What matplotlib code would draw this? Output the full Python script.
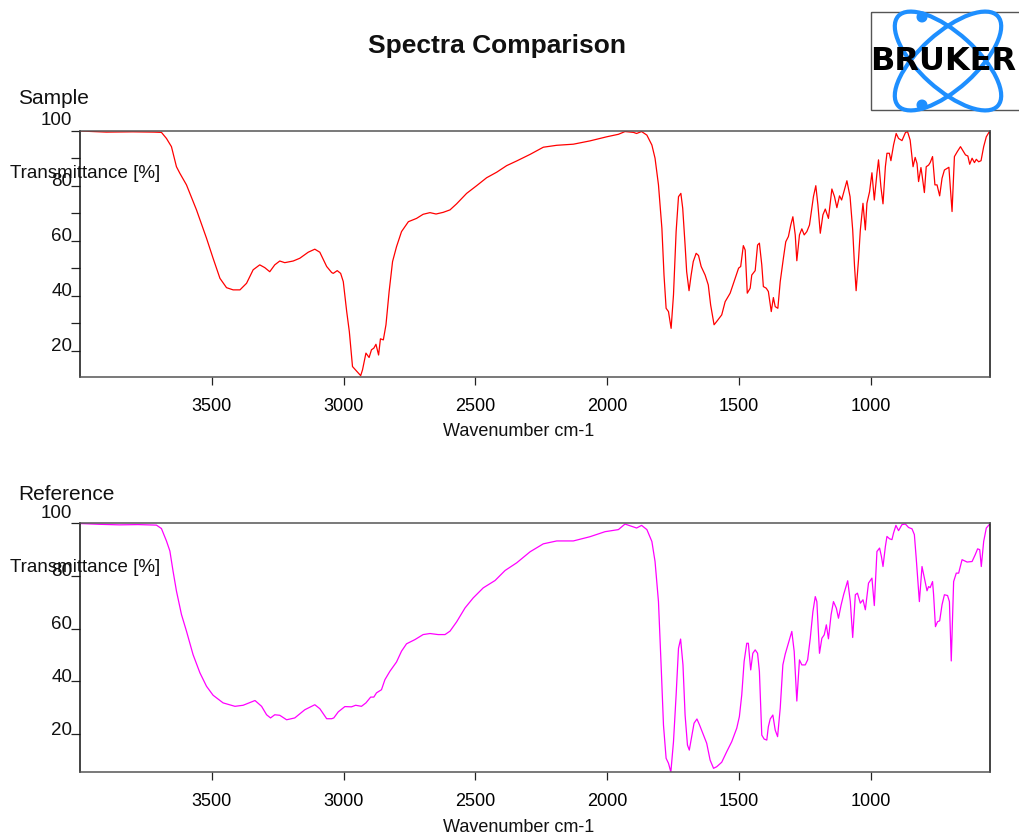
import matplotlib
matplotlib.use("Agg")
import matplotlib.pyplot as plt
from matplotlib.patches import Ellipse, Circle, Rectangle
from matplotlib import transforms

plt.rcParams['font.family'] = ['Liberation Sans', 'DejaVu Sans']

# ---------------- data ----------------
wn_sample = [4001, 3900, 3800, 3720, 3691, 3672, 3653, 3634, 3621, 3596, 3558, 3520, 3495, 3469, 3444, 3419,
             3393, 3368, 3343, 3318, 3299, 3280, 3261, 3242, 3223, 3191, 3166, 3134, 3109, 3090, 3064, 3045,
             3039, 3024, 3011, 3001, 2988, 2978, 2966, 2951, 2935, 2928, 2915, 2903, 2894, 2885, 2877, 2867,
             2860, 2849, 2839, 2827, 2814, 2799, 2780, 2754, 2723, 2698, 2672, 2649, 2622, 2596, 2571, 2533,
             2495, 2457, 2419, 2381, 2343, 2292, 2242, 2191, 2128, 2065, 2001, 1957, 1932, 1900, 1888, 1869,
             1849, 1830, 1818, 1805, 1792, 1784, 1776, 1767, 1757, 1748, 1738, 1729, 1720, 1713, 1704, 1698,
             1689, 1681, 1673, 1662, 1653, 1643, 1628, 1616, 1607, 1594, 1584, 1565, 1552, 1533, 1514, 1501,
             1493, 1483, 1476, 1468, 1457, 1451, 1438, 1429, 1422, 1413, 1407, 1396, 1388, 1377, 1369, 1362,
             1352, 1343, 1331, 1322, 1312, 1303, 1295, 1286, 1280, 1270, 1261, 1252, 1242, 1232, 1223, 1217,
             1208, 1200, 1191, 1181, 1172, 1160, 1147, 1137, 1128, 1118, 1110, 1090, 1078, 1068, 1061, 1055,
             1046, 1039, 1029, 1020, 1014, 1004, 995, 986, 976, 970, 961, 953, 944, 938, 929, 923,
             913, 903, 894, 881, 868, 860, 850, 839, 831, 824, 818, 809, 804, 796, 789, 780,
             774, 765, 756, 748, 738, 729, 720, 703, 691, 682, 671, 659, 640, 631, 624, 615,
             606, 599, 590, 581, 571, 561, 548]
t_sample = [100.0, 99.6, 99.7, 99.6, 99.5, 97.3, 94.3, 87.0, 84.6, 80.4, 71.3, 61.0, 53.7, 46.4, 43.0, 42.2,
            42.2, 44.6, 49.5, 51.3, 50.3, 48.8, 51.3, 52.7, 52.1, 52.7, 53.7, 55.9, 57.0, 55.9, 50.7, 48.5,
            48.2, 49.2, 48.2, 45.2, 34.3, 27.0, 14.3, 12.7, 11.0, 13.1, 19.2, 17.6, 20.4, 21.0, 22.4, 18.5,
            24.4, 24.0, 29.5, 41.6, 52.5, 57.9, 63.4, 67.0, 68.2, 69.7, 70.3, 69.8, 70.4, 71.3, 73.5, 77.3,
            80.1, 83.0, 85.0, 87.4, 89.1, 91.5, 94.1, 94.8, 95.2, 96.4, 97.9, 98.8, 99.8, 99.5, 99.1, 99.8,
            98.5, 94.9, 90.1, 80.4, 64.6, 47.6, 35.5, 34.3, 28.2, 40.4, 63.4, 76.1, 77.3, 71.9, 58.5, 48.8,
            41.9, 47.6, 52.5, 55.5, 54.7, 50.7, 47.6, 44.0, 36.7, 29.5, 30.7, 33.1, 37.9, 41.0, 46.4, 50.1,
            50.7, 58.3, 56.7, 41.0, 42.8, 47.6, 49.2, 58.5, 59.2, 51.3, 43.4, 42.8, 41.6, 34.3, 39.4, 36.1,
            35.5, 45.2, 53.7, 59.7, 61.6, 65.8, 68.8, 62.2, 52.8, 62.2, 64.4, 62.2, 63.4, 65.8, 72.1, 76.1,
            80.1, 73.1, 62.8, 69.5, 71.6, 68.2, 78.9, 76.1, 72.1, 76.4, 74.9, 81.9, 76.1, 64.0, 50.7, 41.9,
            53.1, 64.0, 73.7, 64.0, 73.7, 77.9, 84.8, 74.9, 84.6, 89.5, 79.7, 73.5, 87.0, 91.9, 91.9, 89.2,
            94.9, 99.1, 97.3, 96.5, 99.4, 99.8, 96.7, 87.0, 90.4, 88.2, 81.6, 86.7, 83.4, 77.6, 87.0, 87.6,
            88.5, 90.7, 80.4, 80.4, 76.4, 82.8, 85.8, 86.8, 70.7, 90.7, 92.5, 94.3, 91.3, 90.9, 87.9, 90.1,
            88.5, 89.7, 88.8, 89.2, 94.3, 97.9, 100.0]

wn_reference = [4001, 3925, 3850, 3780, 3710, 3691, 3672, 3659, 3647, 3634, 3615, 3596, 3571, 3545, 3520, 3495,
                3457, 3412, 3381, 3336, 3311, 3292, 3277, 3261, 3242, 3216, 3185, 3147, 3109, 3090, 3064, 3045,
                3037, 3020, 2995, 2970, 2954, 2932, 2915, 2897, 2885, 2875, 2856, 2843, 2824, 2799, 2780, 2761,
                2729, 2698, 2672, 2641, 2615, 2596, 2571, 2539, 2508, 2470, 2425, 2387, 2343, 2292, 2242, 2191,
                2128, 2065, 2008, 1957, 1932, 1888, 1869, 1849, 1830, 1818, 1805, 1795, 1786, 1776, 1767, 1758,
                1748, 1738, 1729, 1721, 1712, 1704, 1695, 1688, 1678, 1670, 1659, 1649, 1634, 1622, 1609, 1596,
                1584, 1565, 1546, 1527, 1508, 1498, 1489, 1480, 1470, 1464, 1455, 1447, 1438, 1429, 1422, 1413,
                1404, 1394, 1388, 1381, 1371, 1362, 1353, 1343, 1333, 1324, 1312, 1299, 1290, 1280, 1270, 1261,
                1248, 1239, 1229, 1219, 1210, 1204, 1194, 1185, 1176, 1168, 1160, 1150, 1141, 1130, 1122, 1112,
                1102, 1087, 1077, 1068, 1058, 1050, 1039, 1029, 1020, 1008, 995, 986, 976, 966, 959, 953,
                944, 938, 928, 919, 913, 904, 894, 881, 868, 856, 843, 834, 827, 815, 805, 796,
                786, 780, 774, 765, 761, 754, 746, 738, 729, 720, 708, 701, 694, 685, 675, 666,
                653, 634, 615, 603, 594, 586, 580, 571, 561, 548]
t_reference = [99.8, 99.5, 99.3, 99.4, 99.2, 97.9, 93.2, 89.4, 81.8, 74.2, 65.3, 59.0, 50.1, 43.2, 38.1, 34.7,
               31.8, 30.5, 30.9, 32.7, 30.5, 27.3, 26.1, 27.3, 27.1, 25.4, 26.1, 29.2, 31.1, 29.6, 25.8, 25.8,
               26.1, 28.4, 30.4, 30.3, 30.9, 30.5, 31.8, 34.0, 34.0, 35.6, 36.8, 40.6, 43.8, 47.3, 51.4, 54.2,
               55.8, 57.7, 58.1, 57.7, 57.7, 59.0, 62.5, 67.8, 71.6, 75.4, 78.2, 82.0, 84.9, 89.1, 92.1, 93.2,
               93.2, 94.8, 96.7, 97.5, 99.6, 98.1, 99.1, 97.5, 93.0, 85.4, 70.2, 46.2, 23.4, 10.8, 8.9, 5.6,
               17.1, 34.8, 52.5, 56.0, 46.2, 27.2, 15.8, 13.9, 19.6, 24.1, 25.7, 23.4, 19.6, 16.5, 10.1, 7.0,
               7.6, 9.3, 13.3, 17.1, 22.2, 26.6, 34.8, 47.5, 54.4, 54.4, 44.3, 50.6, 51.9, 50.6, 43.7, 19.6,
               18.1, 17.7, 22.8, 25.7, 27.2, 21.5, 19.0, 29.8, 46.2, 50.3, 54.4, 58.9, 51.3, 32.5, 48.1, 46.2,
               46.2, 48.1, 56.3, 66.4, 72.1, 70.2, 50.6, 56.3, 57.6, 61.4, 56.1, 65.2, 70.2, 67.7, 63.9, 68.9,
               73.0, 78.1, 70.2, 56.6, 72.8, 73.4, 69.6, 70.9, 67.1, 77.2, 79.1, 68.7, 89.2, 90.5, 87.3, 83.5,
               91.1, 94.9, 94.0, 93.7, 96.2, 99.1, 97.1, 99.4, 99.6, 98.3, 97.8, 95.6, 86.7, 70.2, 83.5, 79.1,
               74.3, 75.9, 75.5, 77.8, 72.8, 60.7, 62.6, 62.9, 69.0, 72.8, 72.5, 70.2, 47.7, 77.8, 81.0, 81.0,
               86.1, 85.2, 85.4, 88.0, 90.2, 89.9, 83.5, 93.0, 98.1, 99.6]

x_ticks = [3500, 3000, 2500, 2000, 1500, 1000]
y_ticks = [20, 40, 60, 80, 100]
y_minor_sample = [30, 50, 70, 90]

W, H = 1019, 835
fig = plt.figure(figsize=(W / 100, H / 100), dpi=100)


def px_rect(left, top, right, bottom):
    return [left / W, 1 - bottom / H, (right - left) / W, (bottom - top) / H]


def style_axes(ax, ylim, minor):
    ax.set_xlim(4000, 547)
    ax.set_ylim(*ylim)
    ax.set_xticks(x_ticks)
    ax.set_xticklabels([str(v) for v in x_ticks])
    ax.set_yticks(y_ticks)
    ax.set_yticklabels([])
    if minor:
        ax.set_yticks(minor, minor=True)
    ax.tick_params(axis='x', direction='out', length=6, width=0.9, color='#222222',
                   labelsize=13, pad=9, top=False)
    ax.tick_params(axis='y', which='both', direction='out', length=6.5, width=0.9, color='#222222',
                   right=False)
    for s in ('top', 'bottom'):
        ax.spines[s].set_color('#555555')
        ax.spines[s].set_linewidth(1.1)
    for s in ('left', 'right'):
        ax.spines[s].set_color('#111111')
        ax.spines[s].set_linewidth(1.1)
    # y tick labels, drawn slightly above their ticks as in the original
    trans = transforms.blended_transform_factory(ax.transAxes, ax.transData)
    for v in y_ticks:
        up = 10 if v == 100 else 4
        off = transforms.ScaledTranslation(-8 / 100, up / 100, fig.dpi_scale_trans)
        ax.text(0, v, str(v), transform=trans + off, ha='right', va='center',
                fontsize=13.5, color='#111111')


ax1 = fig.add_axes(px_rect(80, 131, 990, 377))
ax1.plot(wn_sample, t_sample, color='#ff0000', linewidth=0.9)
style_axes(ax1, (10.5, 100), y_minor_sample)

ax2 = fig.add_axes(px_rect(80, 523, 990, 772))
ax2.plot(wn_reference, t_reference, color='#ff00ff', linewidth=0.9)
style_axes(ax2, (5.6, 100), None)

# texts
fig.text(497 / W, 1 - 46 / H, 'Spectra Comparison', ha='center', va='center',
         fontsize=19, fontweight='bold', color='#111111')
fig.text(18 / W, 1 - 98 / H, 'Sample', ha='left', va='center', fontsize=15, color='#111111')
fig.text(18 / W, 1 - 495 / H, 'Reference', ha='left', va='center', fontsize=15, color='#111111')
fig.text(10 / W, 1 - 173 / H, 'Transmittance [%]', ha='left', va='center', fontsize=13.5, color='#111111')
fig.text(10 / W, 1 - 568 / H, 'Transmittance [%]', ha='left', va='center', fontsize=13.5, color='#111111')
fig.text(519 / W, 1 - 432 / H, 'Wavenumber cm-1', ha='center', va='center', fontsize=13, color='#111111')
fig.text(519 / W, 1 - 828 / H, 'Wavenumber cm-1', ha='center', va='center', fontsize=13, color='#111111')

# Bruker logo (decoration)
lax = fig.add_axes([0, 0, 1, 1], zorder=5)
lax.set_xlim(0, W)
lax.set_ylim(H, 0)
lax.axis('off')
lax.patch.set_alpha(0)
lax.add_patch(Rectangle((871, 12), 160, 98, fill=False, edgecolor='#555555', linewidth=1.0))
blue = '#1e8fff'
lax.add_patch(Ellipse((948, 61), 134, 56, angle=42, fill=False, edgecolor=blue, linewidth=3.0))
lax.add_patch(Ellipse((948, 61), 134, 56, angle=-42, fill=False, edgecolor=blue, linewidth=3.0))
lax.add_patch(Circle((922, 17), 4.8, color=blue))
lax.add_patch(Circle((922, 105), 4.8, color=blue))
lax.text(943, 62, 'BRUKER', ha='center', va='center', fontsize=23, fontweight='bold',
         family='DejaVu Sans', color='black')

fig.savefig('out.png', dpi=100)
